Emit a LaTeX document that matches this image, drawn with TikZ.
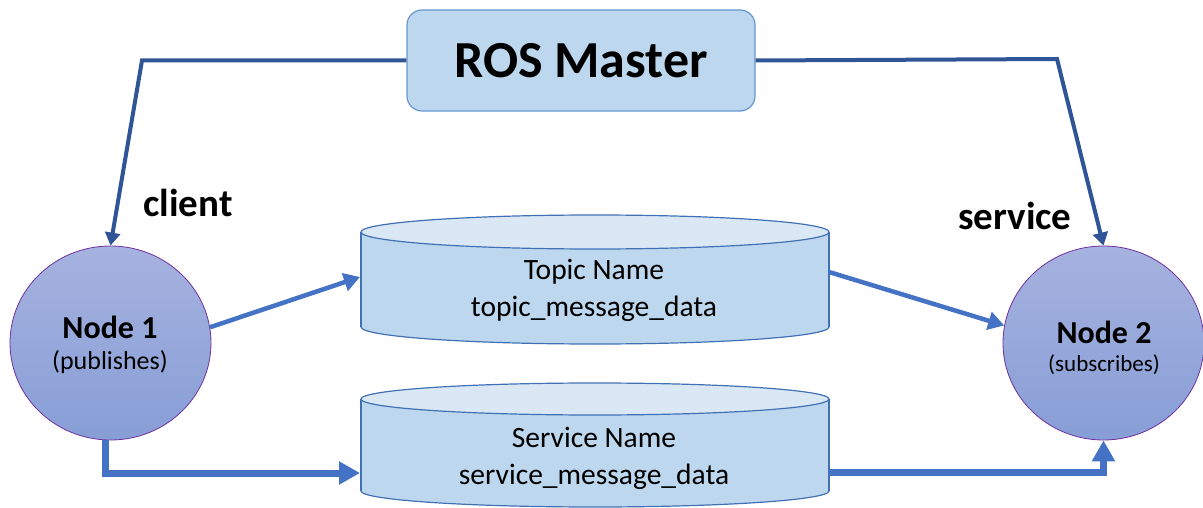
\documentclass[tikz,border=0pt]{standalone}
\usepackage{fontspec}
\setmainfont{Carlito}
\usetikzlibrary{arrows.meta,shapes.geometric,calc}

\definecolor{masterfill}{RGB}{189,215,238}
\definecolor{masterline}{RGB}{100,150,210}
\definecolor{darklink}{RGB}{47,85,151}
\definecolor{link}{RGB}{68,114,196}
\definecolor{drumbody}{RGB}{189,215,238}
\definecolor{drumtop}{RGB}{218,232,245}
\definecolor{drumedge}{RGB}{65,113,180}
\definecolor{nodetop}{RGB}{166,178,223}
\definecolor{nodebottom}{RGB}{135,158,214}
\definecolor{noderim}{RGB}{112,48,160}

\tikzset{
  master/.style={draw=masterline, line width=1.2pt, fill=masterfill,
    rounded corners=15pt, minimum width=348pt, minimum height=101pt,
    font=\bfseries\fontsize{52}{58}\selectfont},
  rosnode/.style={ellipse, draw=noderim, line width=0.8pt,
    top color=nodetop, bottom color=nodebottom,
    minimum width=201pt, minimum height=194pt, inner sep=0pt, align=center},
  drumtext/.style={align=center, font=\fontsize{29.5}{37}\selectfont},
  tag/.style={font=\bfseries\fontsize{39}{44}\selectfont},
  drumline/.style={draw=drumedge, line width=1.2pt},
  lookup/.style={draw=darklink, line width=4pt, -{Triangle[length=13pt,width=15pt]}},
  topicflow/.style={draw=link, line width=4.5pt, -{Triangle[length=16pt,width=18pt]}},
  serviceflow/.style={draw=link, line width=7pt, -{Triangle[length=21pt,width=22pt]}},
}

% cylinder: centre x, top y, bottom y, x radius, y radius
\newcommand\drum[5]{%
  \fill[drumbody] (#1-#4,#2) rectangle (#1+#4,#3);
  \begin{scope}
    \clip (#1-#4-5,#3) rectangle (#1+#4+5,#3+#5+5);
    \draw[drumline,fill=drumbody] (#1,#3) ellipse [x radius=#4, y radius=#5];
  \end{scope}
  \draw[drumline] (#1-#4,#2) -- (#1-#4,#3) (#1+#4,#2) -- (#1+#4,#3);
  \draw[drumline,fill=drumtop] (#1,#2) ellipse [x radius=#4, y radius=#5];
}

\begin{document}
\begin{tikzpicture}[x=1pt,y=-1pt]
  \useasboundingbox (0,0) rectangle (1203,508);

  % message stores
  \drum{595}{232}{327}{234}{17}
  \drum{595}{399}{491}{234}{16}
  \node[drumtext] (topic) at (594,290) {Topic Name\\topic\_message\_data};
  \node[drumtext] (serv) at (594,458) {Service Name\\service\_message\_data};
  \coordinate (topicW) at (360,277);
  \coordinate (topicE) at (829,272);
  \coordinate (servW) at (360,473);
  \coordinate (servE) at (829,472);

  % master and the two nodes
  \node[master] (master) at (581,60.5) {ROS Master};
  \node[rosnode] (n1) at (110.5,343) {};
  \node[font=\bfseries\fontsize{32}{36}\selectfont] (n1name) at (110,327) {Node 1};
  \node[font=\fontsize{26}{30}\selectfont] (n1role) at (110,362) {(publishes)};
  \node[rosnode] (n2) at (1103.5,343) {};
  \node[font=\bfseries\fontsize{32}{36}\selectfont] (n2name) at (1104,332) {Node 2};
  \node[font=\fontsize{23}{28}\selectfont] (n2role) at (1104,365) {(subscribes)};

  \node[tag] (client) at (188,203) {client};
  \node[tag] (service) at (1015,216) {service};

  % registration with the master
  \coordinate (cornerL) at (142,60.5);
  \coordinate (cornerR) at (1057,59);
  \draw[lookup] (master.west) -- (cornerL) -- (n1.north);
  \draw[lookup] (master.east) -- (cornerR) -- (n2.north);

  % topic traffic
  \draw[topicflow] (n1.9) -- (topicW);
  \draw[topicflow] (topicE) -- (n2.170);

  % service traffic
  \draw[serviceflow] (n1.267) |- (servW);
  \draw[serviceflow] (servE) -| (n2.south);
\end{tikzpicture}
\end{document}
